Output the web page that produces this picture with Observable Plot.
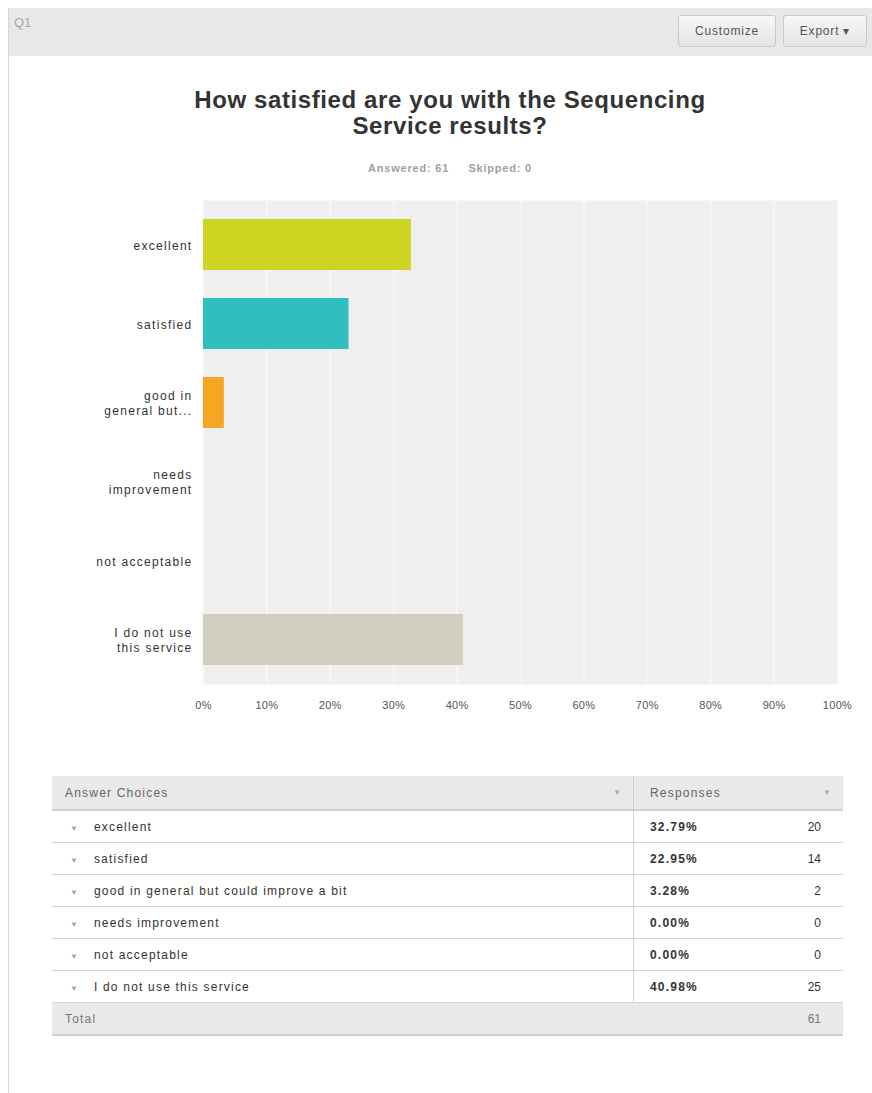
<!DOCTYPE html>
<html>
<head>
<meta charset="utf-8">
<script src="https://cdn.jsdelivr.net/npm/d3@7"></script>
<script src="https://cdn.jsdelivr.net/npm/@observablehq/plot@0.6"></script>
<style>
  html, body { margin: 0; padding: 0; background: #fff; }
  #page { position: relative; width: 872px; height: 1093px; background: #fff; font-family: "Liberation Sans", Arial, sans-serif; overflow: hidden; }
  .abs { position: absolute; }
  .btn { position: absolute; top: 15px; height: 30px; border: 1px solid #c9c9c9; border-radius: 3px;
         background: linear-gradient(#f7f7f7, #e4e4e4); color: #555; font-size: 12px; letter-spacing: 0.8px; line-height: 30px; text-align: center; }
  table { border-collapse: collapse; font-size: 12px; letter-spacing: 1.2px; color: #333; }
  td { height: 31px; border-bottom: 1px solid #d4d4d4; padding: 0; }
  thead td { height: 33px; background: #e9e9e9; color: #666; border-bottom: 2px solid #d0d0d0; }
  tr.total td { background: #e9e9e9; color: #777; border-bottom: 2px solid #d0d0d0; }
  .arrow { color: #aaa; font-size: 8px; letter-spacing: 0; }
  #chart svg g[aria-label="y-axis tick label"] text { letter-spacing: 1.3px; }
  #chart svg g[aria-label="x-axis tick label"] text { letter-spacing: 0.3px; }
</style>
</head>
<body>
<div id="page">
  <div class="abs" style="left:8px;top:8px;width:1px;height:1085px;background:#d6d6d6"></div>
  <div class="abs" style="left:9px;top:8px;width:863px;height:48px;background:#e8e8e8"></div>
  <div class="abs" style="left:14px;top:15px;font-size:13px;color:#a8a8a8">Q1</div>
  <div class="btn" style="left:678px;width:96px">Customize</div>
  <div class="btn" style="left:783px;width:82px">Export &#9662;</div>
  <div class="abs" id="title" style="left:150px;top:87px;width:600px;text-align:center;font-size:24px;letter-spacing:0.6px;font-weight:bold;color:#333;line-height:26px"></div>
  <div class="abs" id="subtitle" style="left:150px;top:162px;width:600px;text-align:center;font-size:11px;letter-spacing:0.8px;font-weight:bold;color:#a0a0a0"></div>
  <div class="abs" id="chart" style="left:0;top:190px"></div>
  <div class="abs" id="tablewrap" style="left:52px;top:776px"></div>
</div>
<script>
// ---- data ----
const titleText = "How satisfied are you with the Sequencing\nService results?";
const answered = 61;
const skipped = 0;
const choices = ["excellent", "satisfied", "good in general but could improve a bit", "needs improvement", "not acceptable", "I do not use this service"];
const chartLabels = ["excellent", "satisfied", "good in\ngeneral but...", "needs\nimprovement", "not acceptable", "I do not use\nthis service"];
const percents = [32.79, 22.95, 3.28, 0.00, 0.00, 40.98];
const counts = [20, 14, 2, 0, 0, 25];
const barColors = ["#cdd422", "#30bfbf", "#f6a623", "#3f8fd0", "#e25b4a", "#d2cfc1"];
const xTicks = [0, 10, 20, 30, 40, 50, 60, 70, 80, 90, 100];

// ---- title ----
document.getElementById("title").innerHTML = titleText.split("\n").join("<br>");
document.getElementById("subtitle").innerHTML = `Answered: ${answered}&nbsp;&nbsp;&nbsp;&nbsp; Skipped: ${skipped}`;

// ---- chart ----
const rows = choices.map((c, i) => ({choice: c, label: chartLabels[i], pct: percents[i], count: counts[i], color: barColors[i]}));
const labelOf = new Map(rows.map(r => [r.choice, r.label]));

const chart = Plot.plot({
  width: 872,
  height: 541,
  marginLeft: 203,
  marginRight: 35,
  marginTop: 10,
  marginBottom: 47,
  style: {fontFamily: "Liberation Sans, Arial, sans-serif", fontSize: "11px", color: "#333", background: "transparent"},
  x: {domain: [0, 100], ticks: xTicks, tickFormat: d => d + "%", label: null},
  y: {domain: choices, paddingInner: 0.35, paddingOuter: 0.2, label: null},
  marks: [
    Plot.frame({fill: "#efefef", stroke: null}),
    Plot.gridX(xTicks, {stroke: "#f6f6f6", strokeOpacity: 1, strokeWidth: 2}),
    Plot.barX(rows, {x: "pct", y: "choice", fill: "color"}),
    Plot.axisY({tickSize: 0, tickPadding: 11, tickFormat: d => labelOf.get(d), fill: "#333", lineHeight: 1.25, fontSize: 12}),
    Plot.axisX({ticks: xTicks, tickSize: 0, tickPadding: 17, tickFormat: d => d + "%", fill: "#555", label: null})
  ]
});
document.getElementById("chart").appendChild(chart);

// ---- table ----
const tw = document.getElementById("tablewrap");
let html = `<table style="width:791px">
<thead><tr>
<td style="width:568px;padding-left:13px;border-right:1px solid #d0d0d0;position:relative">Answer Choices<span class="arrow" style="position:absolute;right:12px;top:12px">&#9660;</span></td>
<td colspan="2" style="padding-left:16px;position:relative">Responses<span class="arrow" style="position:absolute;right:12px;top:12px">&#9660;</span></td>
</tr></thead><tbody>`;
rows.forEach(r => {
  html += `<tr>
<td style="padding-left:18px;border-right:1px solid #d0d0d0"><span class="arrow">&#9660;</span><span style="margin-left:16px">${r.choice}</span></td>
<td style="padding-left:16px;font-weight:bold;width:110px">${r.pct.toFixed(2)}%</td>
<td style="text-align:right;padding-right:22px;letter-spacing:0">${r.count}</td>
</tr>`;
});
const total = counts.reduce((a, b) => a + b, 0);
html += `<tr class="total"><td style="padding-left:13px" colspan="2">Total</td><td style="text-align:right;padding-right:22px;letter-spacing:0">${total}</td></tr>`;
html += `</tbody></table>`;
tw.innerHTML = html;
</script>
</body>
</html>
